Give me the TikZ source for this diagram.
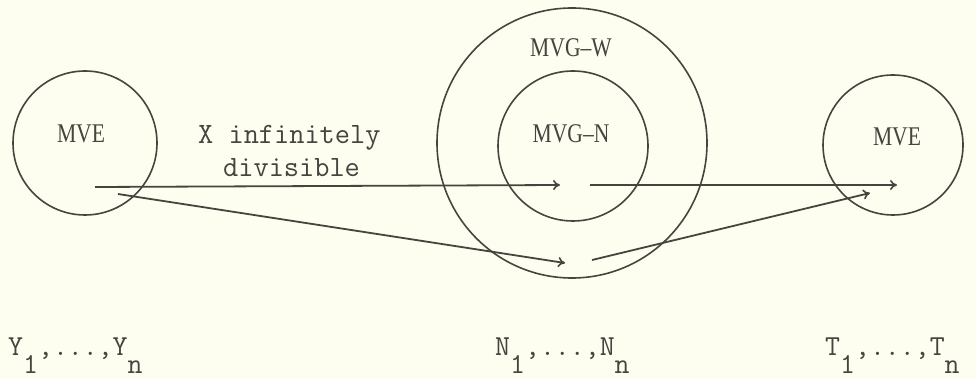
\documentclass[tikz,border=0pt]{standalone}
\usepackage{fontspec}
\setmainfont{Liberation Serif}
\setmonofont{Latin Modern Mono}
\usetikzlibrary{arrows.meta}
\definecolor{paper}{HTML}{FDFDF0}
\definecolor{ink}{HTML}{45453F}
\newcommand{\lowr}[1]{\raisebox{-18pt}{#1}}
\begin{document}
\begin{tikzpicture}[x=1pt,y=-1pt,
  ring/.style={draw=ink,circle,line width=1.6pt,inner sep=0pt},
  conn/.style={draw=ink,line width=1.8pt,-{To[length=7pt,width=10pt,line width=1.6pt]}},
  lbl/.style={text=ink,font=\fontsize{27}{30}\selectfont,inner sep=0pt,anchor=base},
  tt/.style={text=ink,font=\fontsize{29.5}{32}\ttfamily,inner sep=0pt,anchor=base west},
  sub/.style={text=ink,font=\fontsize{29}{32}\ttfamily,inner sep=0pt,anchor=base west}]
\fill[paper] (0,0) rectangle (976,379);
\useasboundingbox (0,0) rectangle (976,379);
\node[ring,minimum size=144pt] (mveL) at (85,143) {};
\node[ring,minimum size=270pt] (mvgW) at (572,143) {};
\node[ring,minimum size=150pt] (mvgN) at (573,146) {};
\node[ring,minimum size=140pt] (mveR) at (893,145) {};
\node[lbl] (tmveL) at (81,143) {\scalebox{0.8}[1]{MVE}};
\node[lbl] (tmvgW) at (571,57) {\scalebox{0.8}[1]{MVG--W}};
\node[lbl] (tmvgN) at (571,143) {\scalebox{0.8}[1]{MVG--N}};
\node[lbl] (tmveR) at (897,146) {\scalebox{0.8}[1]{MVE}};
\node[tt] (xinf) at (198,144) {X infinitely};
\node[tt] (xdiv) at (223,177) {divisible};
\coordinate (a1) at (95,187);
\coordinate (a2) at (560,185);
\coordinate (b1) at (590,185);
\coordinate (b2) at (897,185);
\coordinate (c1) at (118,194);
\coordinate (c2) at (565,263);
\coordinate (d1) at (592,260);
\coordinate (d2) at (870,193);
\draw[conn] (a1) -- (a2);
\draw[conn] (b1) -- (b2);
\draw[conn] (c1) -- (c2);
\draw[conn] (d1) -- (d2);
\node[sub] (ylab) at (8,355) {Y\lowr{1},...,Y\lowr{n}};
\node[sub] (nlab) at (495,355) {N\lowr{1},...,N\lowr{n}};
\node[sub] (tlab) at (825,355) {T\lowr{1},...,T\lowr{n}};
\end{tikzpicture}
\end{document}
